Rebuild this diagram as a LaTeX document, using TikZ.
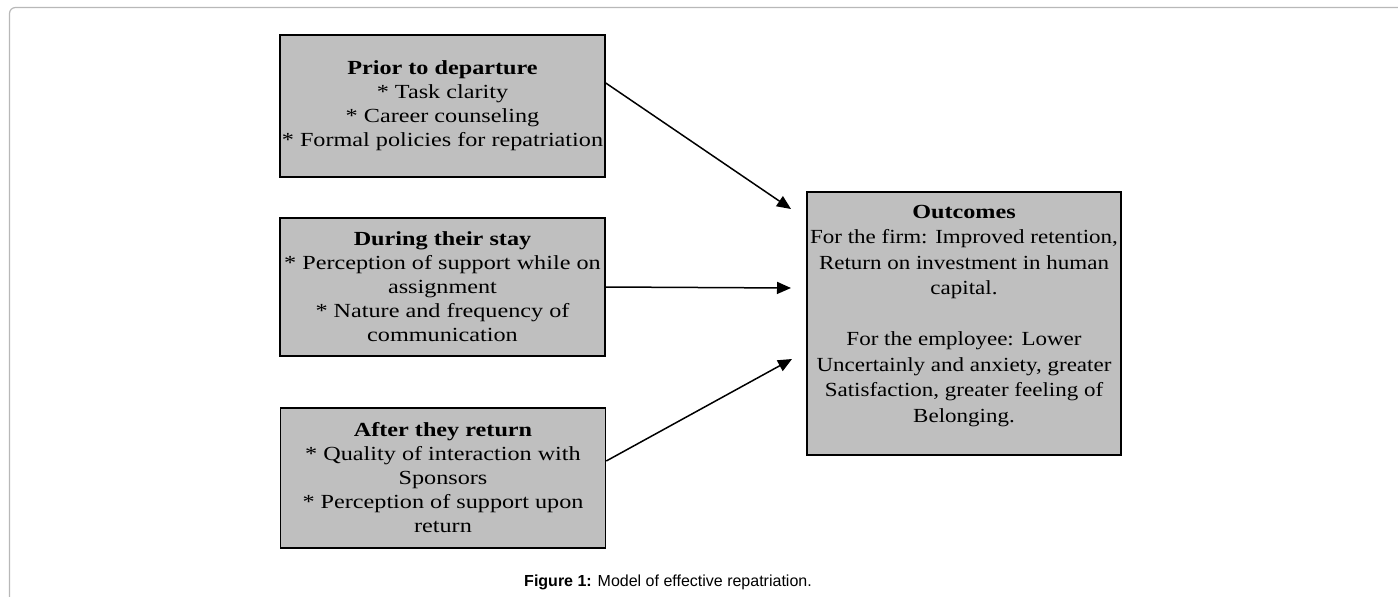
\documentclass[tikz,border=0pt]{standalone}
\usepackage{fontspec}
\setmainfont{Liberation Serif}
\newfontfamily\boxfont[FakeStretch=1.21]{Liberation Serif}
\newfontfamily\outfont[FakeStretch=1.15]{Liberation Serif}
\newfontfamily\capfont{Liberation Sans}
\usetikzlibrary{arrows.meta}

\begin{document}
\begin{tikzpicture}[x=1pt, y=-1pt,
  box/.style = {draw, line width=1.5pt, fill=black!25, minimum width=325pt, inner xsep=1pt, align=center, font=\boxfont\fontsize{20}{24}\selectfont},
  link/.style = {-{Triangle[length=14pt, width=12pt]}, line width=1.5pt}]
\useasboundingbox (0,0) rectangle (1398,597);
\draw[line width=1.2pt, black!28, rounded corners=6pt] (1398,7.5) -- (9.5,7.5) -- (9.5,597);
\node[box, minimum height=142pt] (prior) at (442.5,106) {\textbf{Prior to departure}\\{*} Task clarity\\{*} Career counseling\\{*} Formal policies for repatriation};
\node[box, minimum height=138pt] (stay) at (442.5,287) {\textbf{During their stay}\\{*} Perception of support while on\\assignment\\{*} Nature and frequency of\\communication};
\node[box, minimum height=140pt] (return) at (443,478) {\textbf{After they return}\\{*} Quality of interaction with\\Sponsors\\{*} Perception of support upon\\return};
\node[box, minimum width=312pt, minimum height=263pt] (outcomes) at (964,323.5) {\parbox[c][237pt][t]{312pt}{\centering\fontsize{20}{25.5}\selectfont
  \textbf{Outcomes}\\\outfont For the firm: Improved retention,\\Return on investment in human\\capital.\\[25.5pt]For the employee: Lower\\Uncertainly and anxiety, greater\\Satisfaction, greater feeling of\\Belonging.}};
\node[font=\capfont\fontsize{16}{19}\selectfont] (caption) at (668,582) {\textbf{Figure 1:} Model of effective repatriation.};
\coordinate (t1) at (791,209);
\coordinate (t2) at (791,288);
\coordinate (t3) at (792,359);
\draw[link] ([yshift=23pt]prior.east) -- (t1);
\draw[link] (stay.east) -- (t2);
\draw[link] ([yshift=17pt]return.east) -- (t3);
\end{tikzpicture}
\end{document}
